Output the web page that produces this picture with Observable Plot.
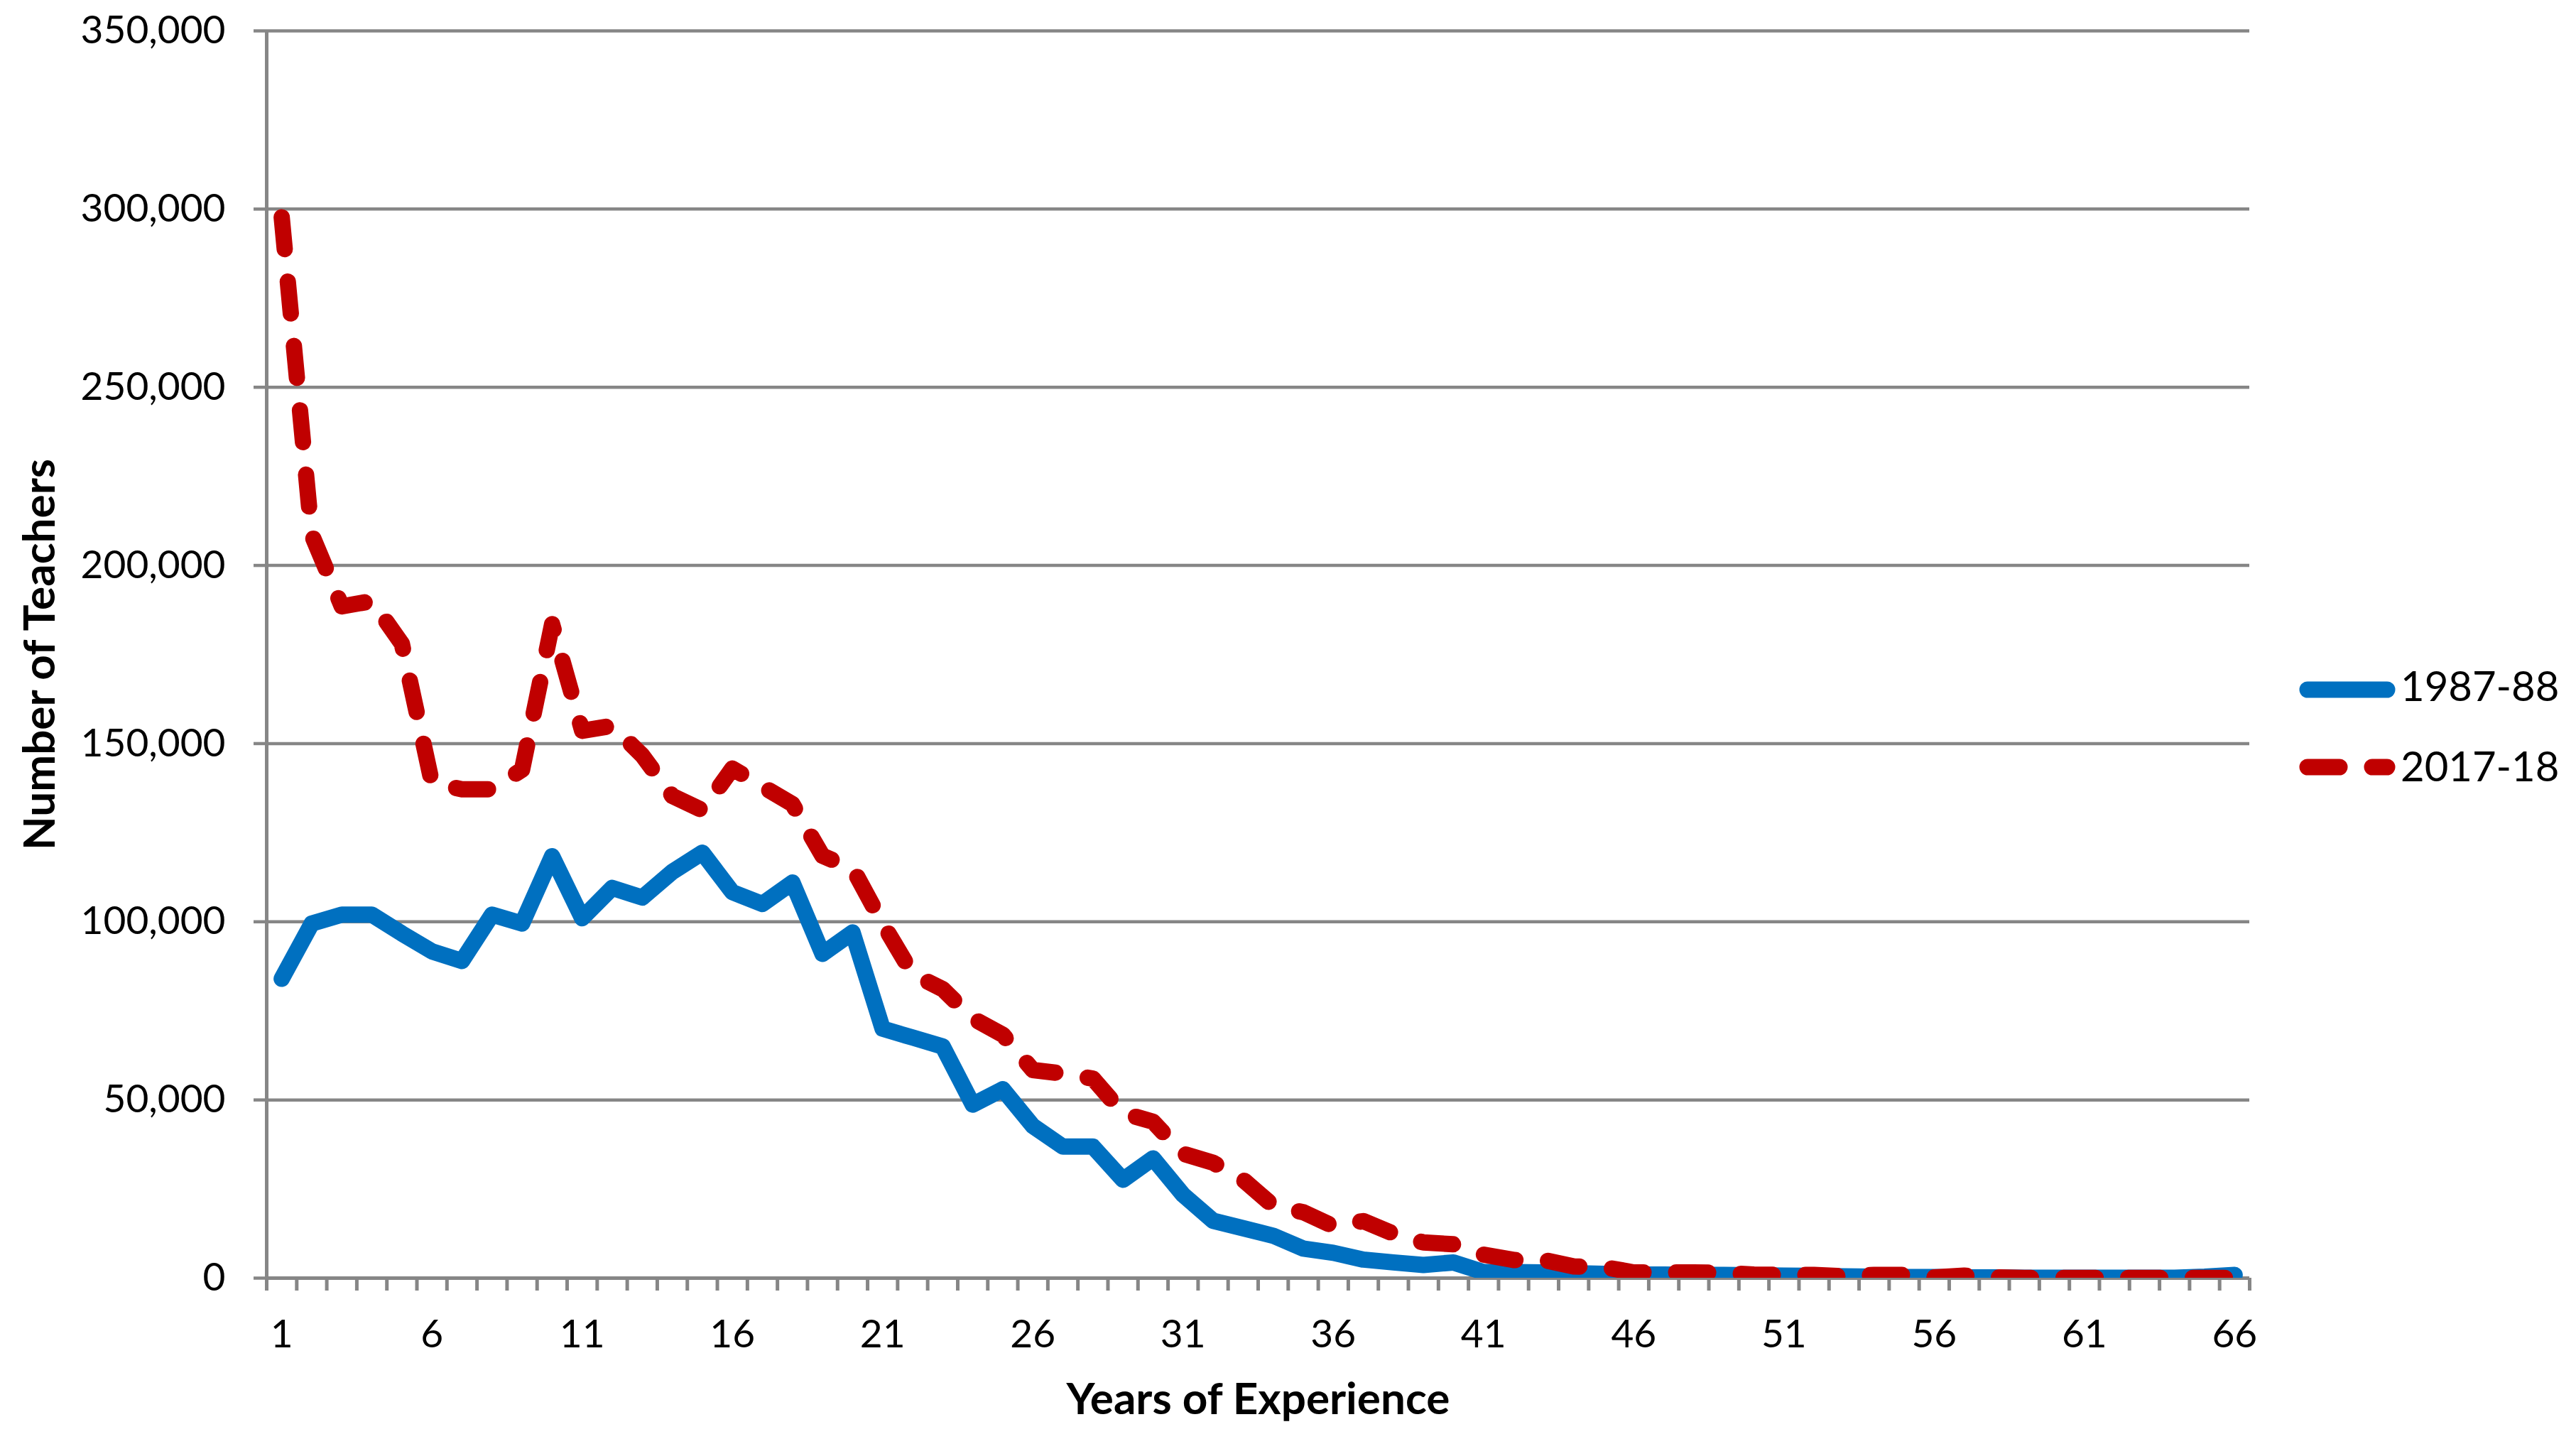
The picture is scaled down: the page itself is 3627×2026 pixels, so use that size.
<!DOCTYPE html>
<html>
<head>
<meta charset="utf-8">
<script src="https://cdn.jsdelivr.net/npm/d3@7"></script>
<script src="https://cdn.jsdelivr.net/npm/@observablehq/plot@0.6"></script>
<style>
  html, body { margin: 0; padding: 0; background: #fff; }
  #wrap { display: flex; width: 3627px; height: 2026px; font-family: Lato, "Open Sans", sans-serif; }
  #legend svg { display: block; }
</style>
</head>
<body>
<div id="wrap"><div id="chart"></div><div id="legend"></div></div>
<script>
// ---- data (values in thousands of teachers) ----
const years = [1,2,3,4,5,6,7,8,9,10,11,12,13,14,15,16,17,18,19,20,21,22,23,24,25,26,27,28,29,30,31,32,33,34,35,36,37,38,39,40,41,42,43,44,45,46,47,48,49,50,51,52,53,54,55,56,57,58,59,60,61,62,63,64,65,66];
const teachers1987 = [84,99.5,102,102,96.7,91.7,89,102,99.5,118.4,101,109.5,106.8,114,119.4,108.3,105,111,91,97,
  70,67.5,65,48.7,53,42.7,36.9,36.9,27.6,33.6,23.4,16.1,14,11.9,8.3,7.1,5.2,4.4,3.7,4.4,
  1.7,1.7,1.6,1.4,1.2,1.0,1.0,0.9,0.9,0.8,0.7,0.6,0.5,0.4,0.3,0.3,0.2,0.2,0.1,0.1,0.1,0.1,0.1,0.1,0.4,0.9];
const teachers2017 = [297.7,208.6,188.5,190,178,139,137.2,137.2,142.7,183.5,153.6,155,146.7,135.3,131.3,143,138,133,118.5,115,
  99.5,85.3,81.1,72.9,68.3,58.4,57.4,56,46.3,43.9,34.9,32.4,27.6,20.3,18.5,14.6,16,12.5,10,9.5,
  6.6,5.1,5.1,3.3,3.1,1.6,1.6,1.6,1.5,1.0,0.9,0.9,0.5,0.9,0.9,0.2,0.7,0.2,0.05,0.05,0.05,0.05,0.05,0.05,0.05,0.05];
const seriesNames = ["1987-88", "2017-18"];
const xTickLabels = [1,6,11,16,21,26,31,36,41,46,51,56,61,66];
const yTicks = [0,50000,100000,150000,200000,250000,300000,350000];
const yTitle = "Number of Teachers";
const xTitle = "Years of Experience";

// ---- styles ----
const colors = ["#0070C0", "#C00000"];
const gray = "#868686";

const rows1987 = years.map((yr, i) => ({year: yr, series: seriesNames[0], value: teachers1987[i] * 1000}));
const rows2017 = years.map((yr, i) => ({year: yr, series: seriesNames[1], value: teachers2017[i] * 1000}));
const boundaries = years.map(y => y - 0.5).concat([years[years.length - 1] + 0.5]);

const chart = Plot.plot({
  width: 3200,
  height: 2026,
  marginLeft: 375,
  marginRight: 33,
  marginTop: 43,
  marginBottom: 227,
  style: {fontFamily: "Lato, 'Open Sans', sans-serif", fontSize: "55px", color: "#000", background: "#fff"},
  x: {type: "linear", domain: [boundaries[0], boundaries[boundaries.length - 1]]},
  y: {domain: [0, 350000]},
  marks: [
    Plot.gridY({ticks: yTicks, stroke: gray, strokeOpacity: 1, strokeWidth: 4.5}),
    Plot.axisY({ticks: yTicks, tickSize: 18, tickPadding: 40, stroke: gray, strokeWidth: 4.5,
      tickFormat: d3.format(","), fill: "#000", fontSize: 55, label: null}),
    Plot.axisX({ticks: boundaries, tickSize: 18, stroke: gray, strokeWidth: 5, tickFormat: () => "", label: null}),
    Plot.axisX({ticks: xTickLabels, tickSize: 0, tickPadding: 58, tickFormat: d => String(d),
      fill: "#000", fontSize: 55, label: null}),
    Plot.ruleX([boundaries[0]], {stroke: gray, strokeWidth: 5}),
    Plot.ruleY([0], {stroke: gray, strokeWidth: 5}),
    Plot.line(rows1987, {x: "year", y: "value", stroke: colors[0], strokeWidth: 23,
      strokeLinejoin: "round", strokeLinecap: "round", clip: true}),
    Plot.line(rows2017, {x: "year", y: "value", stroke: colors[1], strokeWidth: 23,
      strokeLinejoin: "round", strokeLinecap: "round", strokeDasharray: "45,46", clip: true}),
    Plot.text([yTitle], {text: d => d, frameAnchor: "left", dx: -318, rotate: -90,
      textAnchor: "middle", lineAnchor: "middle",
      fontWeight: "bold", fontSize: 62, fill: "#000"}),
    Plot.text([xTitle], {text: d => d, frameAnchor: "bottom", dy: 191,
      textAnchor: "middle", lineAnchor: "bottom",
      fontWeight: "bold", fontSize: 62, fill: "#000"})
  ]
});
document.getElementById("chart").appendChild(chart);

// ---- legend (right of the plot) ----
const lg = d3.select("#legend").append("svg").attr("width", 427).attr("height", 2026);
const legendRows = [{y: 971, base: 987, dash: null}, {y: 1080, base: 1100, dash: "45,46"}];
legendRows.forEach((r, i) => {
  lg.append("line").attr("x1", 49).attr("x2", 161).attr("y1", r.y).attr("y2", r.y)
    .attr("stroke", colors[i]).attr("stroke-width", 23).attr("stroke-linecap", "round")
    .attr("stroke-dasharray", r.dash);
  lg.append("text").attr("x", 180).attr("y", r.base).text(seriesNames[i])
    .attr("font-family", "Lato, 'Open Sans', sans-serif").attr("font-size", 58).attr("fill", "#000");
});
</script>
</body>
</html>
